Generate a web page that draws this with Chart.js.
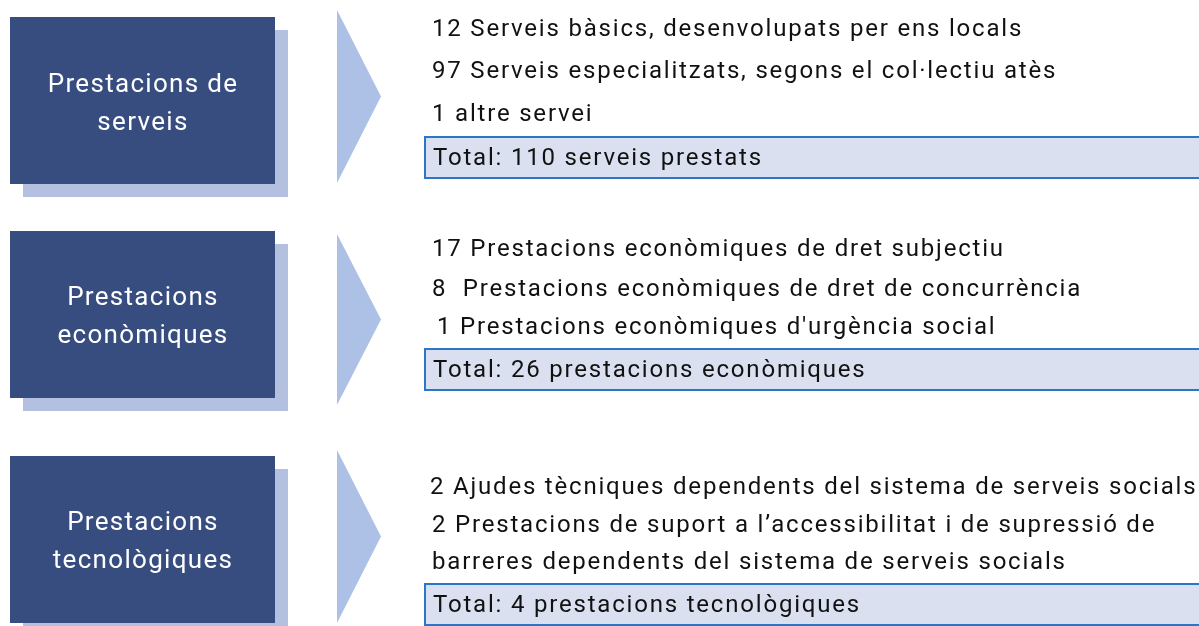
<!DOCTYPE html>
<html>
<head>
<meta charset="utf-8">
<script src="https://cdn.jsdelivr.net/npm/chart.js@4/dist/chart.umd.min.js"></script>
<style>
  html, body { margin: 0; padding: 0; background: #fff; }
  #wrap { width: 1199px; height: 626px; position: relative; }
</style>
</head>
<body>
<div id="wrap"><canvas id="myChart"></canvas></div>
<script>
// categories (left boxes) and their title lines
const categories = ['Prestacions de serveis', 'Prestacions econòmiques', 'Prestacions tecnològiques'];
const titleLines = [['Prestacions de', 'serveis'], ['Prestacions', 'econòmiques'], ['Prestacions', 'tecnològiques']];

// counts and descriptions of each group
const itemCounts = [[12, 97, 1], [17, 8, 1], [2, 2]];
const itemLabels = [
  ['Serveis bàsics, desenvolupats per ens locals', 'Serveis especialitzats, segons el col·lectiu atès', 'altre servei'],
  ['Prestacions econòmiques de dret subjectiu', ' Prestacions econòmiques de dret de concurrència', 'Prestacions econòmiques d\'urgència social'],
  ['Ajudes tècniques dependents del sistema de serveis socials', 'Prestacions de suport a l’accessibilitat i de supressió de\nbarreres dependents del sistema de serveis socials']
];
const totals = [110, 26, 4];
const totalLabels = ['serveis prestats', 'prestacions econòmiques', 'prestacions tecnològiques'];

// layout (in scale units = px)
const groupTop = [17, 231, 456];
const boxW = 265, boxH = 167, shadowOff = 13;
const arrowX = 337, arrowW = 44;
const arrowSpan = [[10, 183], [234, 405], [450, 623]];
const lineY = [[30, 72, 115], [250, 290, 328], [488, 526, 563]];
const lineX = [[432, 432, 432], [432, 432, 437], [430, 432, 432]];
const titleY = [[85, 123], [298, 336], [523, 561]];
const totalTop = [137, 349, 584];
const totalH = 41;

const diagram = {
  id: 'diagram',
  afterDraw(chart) {
    const ctx = chart.ctx;
    const xs = chart.scales.x, ys = chart.scales.y;
    const X = v => xs.getPixelForValue(v);
    const Y = v => ys.getPixelForValue(v);
    ctx.save();
    categories.forEach((cat, i) => {
      const t = groupTop[i];
      // shadow
      ctx.fillStyle = '#b4c0df';
      ctx.fillRect(X(10 + shadowOff), Y(t + shadowOff), X(10 + shadowOff + boxW) - X(10 + shadowOff), Y(t + shadowOff + boxH) - Y(t + shadowOff));
      // dark box
      ctx.fillStyle = '#374d80';
      ctx.fillRect(X(10), Y(t), X(10 + boxW) - X(10), Y(t + boxH) - Y(t));
      // title
      ctx.fillStyle = '#ffffff';
      ctx.font = '26px Roboto';
      ctx.letterSpacing = '1.3px';
      ctx.textAlign = 'center';
      ctx.textBaseline = 'middle';
      titleLines[i].forEach((ln, k) => ctx.fillText(ln, X(143), Y(titleY[i][k])));
      // arrow
      const a = arrowSpan[i];
      ctx.fillStyle = '#adc1e6';
      ctx.beginPath();
      ctx.moveTo(X(arrowX), Y(a[0]));
      ctx.lineTo(X(arrowX + arrowW), Y((a[0] + a[1]) / 2));
      ctx.lineTo(X(arrowX), Y(a[1]));
      ctx.closePath();
      ctx.fill();
      // items
      ctx.fillStyle = '#111111';
      ctx.font = '24px Roboto';
      ctx.letterSpacing = '1.8px';
      ctx.textAlign = 'left';
      let row = 0;
      itemCounts[i].forEach((n, k) => {
        const parts = (n + ' ' + itemLabels[i][k]).split('\n');
        parts.forEach(p => {
          ctx.fillText(p, X(lineX[i][row]), Y(lineY[i][row]));
          row++;
        });
      });
      // total box
      const tt = totalTop[i];
      ctx.fillStyle = '#dae0f0';
      ctx.fillRect(X(425), Y(tt), X(1205) - X(425), Y(tt + totalH) - Y(tt));
      ctx.strokeStyle = '#2e75c6';
      ctx.lineWidth = 2;
      ctx.strokeRect(X(425), Y(tt), X(1205) - X(425), Y(tt + totalH) - Y(tt));
      ctx.fillStyle = '#111111';
      ctx.fillText('Total: ' + totals[i] + ' ' + totalLabels[i], X(433), Y(tt + totalH / 2 + 1));
    });
    ctx.restore();
  }
};

new Chart(document.getElementById('myChart').getContext('2d'), {
  type: 'scatter',
  data: { datasets: [{ data: [] }] },
  options: {
    responsive: true,
    maintainAspectRatio: false,
    animation: false,
    layout: { padding: 0 },
    plugins: { legend: { display: false }, tooltip: { enabled: false } },
    scales: {
      x: { type: 'linear', min: 0, max: 1199, display: false },
      y: { type: 'linear', min: 0, max: 626, reverse: true, display: false }
    }
  },
  plugins: [diagram]
});
</script>
</body>
</html>
